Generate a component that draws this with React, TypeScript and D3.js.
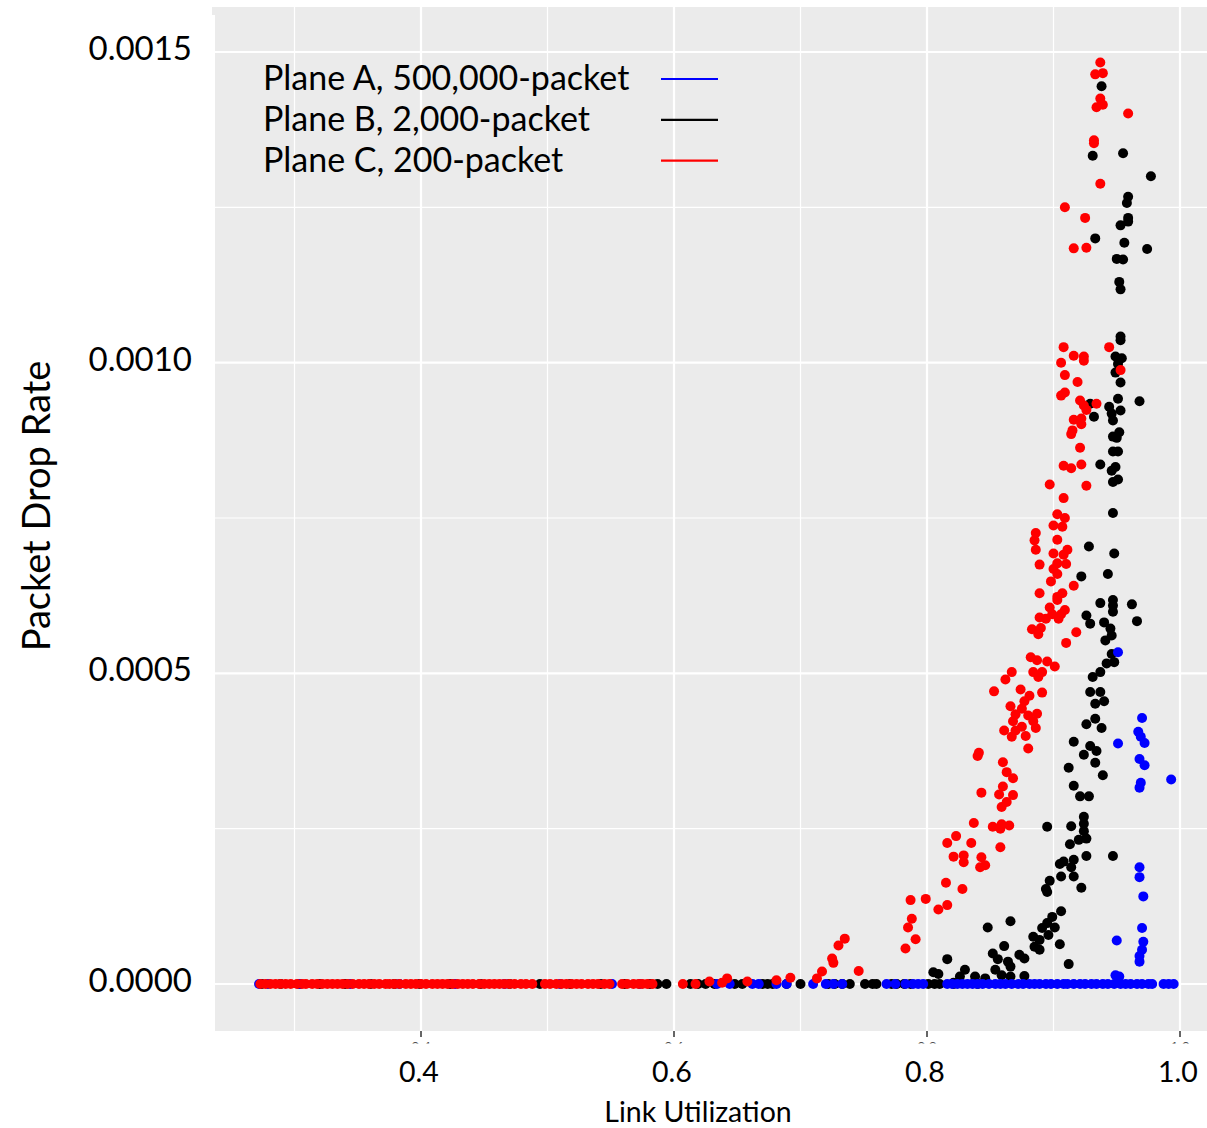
import React from "react";
import * as d3 from "d3";

// ---------- data (link utilization, packet drop rate in units of 1e-4) ----------
const DROP_UNIT = 1e-4;

const SERIES_NAMES = ["Plane A, 500,000-packet", "Plane B, 2,000-packet", "Plane C, 200-packet"];
const SERIES_COLORS = ["#0000ff", "#000000", "#ff0000"];

const X_TICKS = [0.4, 0.6, 0.8, 1.0];
const X_MINOR = [0.3, 0.5, 0.7, 0.9];
const Y_TICKS = [0, 0.0005, 0.001, 0.0015];
const Y_MINOR = [0.00025, 0.00075, 0.00125];

// Plane A (blue) zero-drop utilizations
const A_ZERO = [
  0.272, 0.279, 0.304, 0.344, 0.383, 0.427, 0.466, 0.51, 0.551, 0.573, 0.634, 0.644, 0.662, 0.667,
  0.681, 0.689, 0.71, 0.72, 0.726, 0.733, 0.768, 0.775, 0.783, 0.789, 0.793, 0.797, 0.816, 0.82,
  0.824, 0.828, 0.832, 0.836, 0.84, 0.844, 0.849, 0.854, 0.858, 0.862, 0.867, 0.872, 0.876, 0.881,
  0.885, 0.889, 0.894, 0.898, 0.903, 0.908, 0.911, 0.916, 0.921, 0.925, 0.93, 0.934, 0.939, 0.943,
  0.948, 0.953, 0.957, 0.961, 0.966, 0.97, 0.975, 0.978, 0.987, 0.991, 0.995,
];
// Plane A (blue) non-zero drops [utilization, drop x1e-4]
const A_DROP: [number, number][] = [
  [0.97, 4.28], [0.951, 3.87], [0.967, 4.06], [0.969, 3.98], [0.972, 3.88], [0.968, 3.62],
  [0.972, 3.52], [0.969, 3.24], [0.968, 3.16], [0.993, 3.29], [0.968, 1.88], [0.968, 1.72],
  [0.971, 1.41], [0.97, 0.9], [0.95, 0.7], [0.971, 0.68], [0.97, 0.55], [0.968, 0.45],
  [0.968, 0.36], [0.949, 0.14], [0.952, 0.12], [0.951, 5.34],
];

// Plane B (black) zero-drop utilizations
const B_ZERO = [
  0.274, 0.289, 0.304, 0.32, 0.34, 0.36, 0.379, 0.399, 0.423, 0.447, 0.47, 0.494, 0.518, 0.542,
  0.561, 0.581, 0.587, 0.594, 0.613, 0.619, 0.625, 0.632, 0.648, 0.654, 0.67, 0.674, 0.678, 0.689,
  0.7, 0.722, 0.727, 0.733, 0.739, 0.751, 0.757, 0.76, 0.772, 0.776, 0.782, 0.787, 0.801, 0.806,
  0.81, 0.821, 0.84,
];
// Plane B (black) non-zero drops
const B_DROP: [number, number][] = [
  [0.938, 14.45], [0.931, 13.33], [0.955, 13.37], [0.977, 13.0], [0.959, 12.67], [0.958, 12.57],
  [0.959, 12.33], [0.959, 12.27], [0.953, 12.21], [0.933, 12.0], [0.956, 11.93], [0.974, 11.83],
  [0.95, 11.67], [0.955, 11.66], [0.952, 11.3], [0.953, 11.18], [0.953, 10.42], [0.953, 10.36],
  [0.949, 10.1], [0.954, 10.07], [0.951, 9.98], [0.949, 9.84], [0.953, 9.68], [0.951, 9.42],
  [0.968, 9.38], [0.929, 9.34], [0.944, 9.29], [0.953, 9.23], [0.946, 9.18], [0.932, 9.13],
  [0.947, 9.07], [0.952, 8.88], [0.947, 8.81], [0.95, 8.79], [0.947, 8.57], [0.951, 8.57],
  [0.937, 8.36], [0.949, 8.32], [0.946, 8.26], [0.951, 8.12], [0.947, 8.08], [0.947, 7.58],
  [0.928, 7.04], [0.948, 6.93], [0.922, 6.56], [0.943, 6.6], [0.937, 6.13], [0.947, 6.18],
  [0.947, 6.09], [0.947, 5.99], [0.962, 6.11], [0.966, 5.84], [0.926, 5.93], [0.929, 5.8],
  [0.94, 5.82], [0.945, 5.72], [0.946, 5.61], [0.941, 5.53], [0.946, 5.31], [0.948, 5.18],
  [0.942, 5.16], [0.937, 5.02], [0.931, 4.94], [0.929, 4.7], [0.937, 4.7], [0.933, 4.51],
  [0.94, 4.55], [0.933, 4.27], [0.926, 4.18], [0.938, 4.12], [0.916, 3.9], [0.929, 3.83],
  [0.934, 3.75], [0.924, 3.69], [0.933, 3.56], [0.912, 3.48], [0.939, 3.36], [0.916, 3.19],
  [0.921, 3.02], [0.928, 3.02], [0.924, 2.69], [0.924, 2.58], [0.914, 2.54], [0.895, 2.53],
  [0.924, 2.46], [0.926, 2.34], [0.92, 2.32], [0.913, 2.25], [0.947, 2.06], [0.926, 2.06],
  [0.916, 2.0], [0.908, 1.97], [0.905, 1.93], [0.914, 1.88], [0.906, 1.73], [0.916, 1.73],
  [0.922, 1.55], [0.897, 1.66], [0.894, 1.53], [0.895, 1.48], [0.906, 1.17], [0.899, 1.08],
  [0.895, 0.98], [0.891, 0.9], [0.901, 0.91], [0.896, 0.79], [0.884, 0.76], [0.889, 0.71],
  [0.885, 0.6], [0.889, 0.55], [0.905, 0.64], [0.912, 0.32], [0.866, 1.01], [0.848, 0.91],
  [0.861, 0.61], [0.852, 0.49], [0.856, 0.4], [0.864, 0.36], [0.866, 0.28], [0.873, 0.47],
  [0.877, 0.41], [0.854, 0.23], [0.859, 0.14], [0.866, 0.12], [0.877, 0.13], [0.816, 0.4],
  [0.805, 0.19], [0.809, 0.16], [0.83, 0.23], [0.838, 0.12], [0.846, 0.09], [0.838, 0.04],
  [0.826, 0.12], [0.821, 0.02],
];

// Plane C (red) zero-drop utilizations
const C_ZERO = [
  0.273, 0.277, 0.281, 0.285, 0.289, 0.293, 0.297, 0.302, 0.306, 0.309, 0.314, 0.318, 0.322,
  0.326, 0.33, 0.334, 0.338, 0.342, 0.346, 0.351, 0.355, 0.359, 0.363, 0.367, 0.372, 0.375,
  0.379, 0.383, 0.388, 0.392, 0.396, 0.4, 0.404, 0.409, 0.413, 0.417, 0.421, 0.425, 0.429,
  0.433, 0.437, 0.441, 0.446, 0.45, 0.454, 0.458, 0.462, 0.466, 0.47, 0.474, 0.479, 0.483,
  0.488, 0.498, 0.502, 0.507, 0.511, 0.515, 0.519, 0.523, 0.527, 0.532, 0.536, 0.54, 0.545,
  0.549, 0.559, 0.563, 0.568, 0.572, 0.575, 0.579, 0.583, 0.607, 0.617,
];
// Plane C (red) non-zero drops
const C_DROP: [number, number][] = [
  [0.937, 14.83], [0.933, 14.64], [0.939, 14.66], [0.937, 14.25], [0.939, 14.15], [0.934, 14.11],
  [0.959, 14.01], [0.932, 13.58], [0.932, 13.53], [0.937, 12.88], [0.909, 12.5], [0.925, 12.33],
  [0.916, 11.84], [0.926, 11.85], [0.908, 10.25], [0.944, 10.25], [0.916, 10.11], [0.924, 10.1],
  [0.924, 10.03], [0.906, 10.0], [0.953, 9.88], [0.909, 9.8], [0.919, 9.69], [0.909, 9.52],
  [0.906, 9.47], [0.921, 9.39], [0.924, 9.31], [0.934, 9.34], [0.926, 9.24], [0.916, 9.08],
  [0.922, 9.1], [0.922, 9.01], [0.915, 8.91], [0.914, 8.85], [0.921, 8.63], [0.908, 8.34],
  [0.914, 8.3], [0.922, 8.36], [0.897, 8.04], [0.926, 8.02], [0.908, 7.82], [0.903, 7.56],
  [0.909, 7.5], [0.9, 7.38], [0.907, 7.36], [0.886, 7.26], [0.885, 7.14], [0.903, 7.15],
  [0.886, 6.99], [0.911, 6.99], [0.908, 6.91], [0.9, 6.93], [0.889, 6.75], [0.903, 6.77],
  [0.91, 6.76], [0.9, 6.68], [0.903, 6.6], [0.898, 6.48], [0.916, 6.41], [0.889, 6.29],
  [0.907, 6.29], [0.903, 6.23], [0.903, 6.18], [0.897, 6.06], [0.909, 6.02], [0.899, 5.95],
  [0.906, 5.95], [0.889, 5.9], [0.894, 5.88], [0.904, 5.88], [0.883, 5.71], [0.89, 5.73],
  [0.888, 5.63], [0.918, 5.66], [0.91, 5.49], [0.882, 5.26], [0.887, 5.21], [0.895, 5.19],
  [0.901, 5.11], [0.884, 5.02], [0.891, 5.02], [0.888, 4.94], [0.867, 5.02], [0.862, 4.9],
  [0.853, 4.71], [0.874, 4.74], [0.881, 4.64], [0.877, 4.55], [0.891, 4.69], [0.866, 4.47],
  [0.875, 4.43], [0.87, 4.34], [0.887, 4.35], [0.88, 4.32], [0.884, 4.23], [0.868, 4.23],
  [0.861, 4.08], [0.87, 4.08], [0.875, 4.14], [0.886, 4.12], [0.867, 3.98], [0.878, 3.99],
  [0.88, 3.79], [0.841, 3.72], [0.84, 3.67], [0.86, 3.57], [0.863, 3.41], [0.868, 3.31],
  [0.86, 3.18], [0.857, 3.05], [0.868, 3.04], [0.863, 2.93], [0.859, 2.85], [0.843, 3.08],
  [0.837, 2.59], [0.852, 2.53], [0.859, 2.57], [0.865, 2.55], [0.858, 2.5], [0.858, 2.2],
  [0.816, 2.27], [0.823, 2.38], [0.835, 2.27], [0.821, 2.05], [0.829, 2.07], [0.829, 1.96],
  [0.843, 2.04], [0.846, 1.91], [0.842, 1.88], [0.815, 1.63], [0.828, 1.53], [0.787, 1.35],
  [0.799, 1.37], [0.816, 1.27], [0.809, 1.2], [0.788, 1.05], [0.785, 0.91], [0.791, 0.72],
  [0.783, 0.57], [0.735, 0.73], [0.73, 0.62], [0.725, 0.41], [0.726, 0.34], [0.717, 0.2],
  [0.713, 0.09], [0.746, 0.21], [0.692, 0.1], [0.681, 0.06], [0.658, 0.04], [0.642, 0.09],
  [0.628, 0.04], [0.638, 0.02],
];

// ---------- chart ----------
const W = 1207;
const H = 1128;
const PANEL = { left: 215, right: 1207, top: 7, bottom: 1031 };
const FONT = "Lato, 'Open Sans', sans-serif";

const x = d3.scaleLinear().domain([0.8, 1.0]).range([927, 1180]);
const y = d3.scaleLinear().domain([0, 0.0015]).range([984, 52]);
const fmtY = d3.format(".4f");
const fmtX = d3.format(".1f");

type Pt = { u: number; v: number };
const toPts = (zero: number[], drop: [number, number][]): Pt[] => [
  ...zero.map((u) => ({ u, v: 0 })),
  ...drop.map(([u, d]) => ({ u, v: d * DROP_UNIT })),
];

const SERIES = [toPts(A_ZERO, A_DROP), toPts(B_ZERO, B_DROP), toPts(C_ZERO, C_DROP)];
// draw order: black, blue, red
const DRAW_ORDER = [1, 0, 2];

export default function App() {
  const r = 5;
  return (
    <svg
      width={W}
      height={H}
      style={{ position: "absolute", left: 0, top: 0, background: "#fff" }}
      fontFamily={FONT}
    >
      <defs>
        <clipPath id="panelClip">
          <rect x={PANEL.left} y={PANEL.top} width={PANEL.right - PANEL.left} height={PANEL.bottom - PANEL.top} />
        </clipPath>
        <clipPath id="tinyClip">
          <rect x={0} y={1038} width={W} height={5.5} />
        </clipPath>
      </defs>
      <rect x={0} y={0} width={W} height={H} fill="#fff" />
      {/* panel */}
      <rect x={212} y={PANEL.top} width={3} height={8} fill="#ebebeb" />
      <rect
        x={PANEL.left}
        y={PANEL.top}
        width={PANEL.right - PANEL.left}
        height={PANEL.bottom - PANEL.top}
        fill="#ebebeb"
      />
      <g clipPath="url(#panelClip)">
        {Y_MINOR.map((t) => (
          <line key={"ym" + t} x1={PANEL.left} x2={PANEL.right} y1={y(t)} y2={y(t)} stroke="#fff" strokeWidth={1.2} />
        ))}
        {X_MINOR.map((t) => (
          <line key={"xm" + t} x1={x(t)} x2={x(t)} y1={PANEL.top} y2={PANEL.bottom} stroke="#fff" strokeWidth={1.2} />
        ))}
        {Y_TICKS.map((t) => (
          <line key={"yM" + t} x1={PANEL.left} x2={PANEL.right} y1={y(t)} y2={y(t)} stroke="#fff" strokeWidth={2.2} />
        ))}
        {X_TICKS.map((t) => (
          <line key={"xM" + t} x1={x(t)} x2={x(t)} y1={PANEL.top} y2={PANEL.bottom} stroke="#fff" strokeWidth={2.2} />
        ))}
        {DRAW_ORDER.map((si) => (
          <g key={"s" + si} fill={SERIES_COLORS[si]}>
            {SERIES[si].map((p, i) => (
              <circle key={i} cx={x(p.u)} cy={y(p.v)} r={r} />
            ))}
          </g>
        ))}
      </g>

      {/* legend */}
      {SERIES_NAMES.map((name, i) => (
        <g key={"lg" + i}>
          <text x={263} y={90 + i * 40.8} fontSize={34} fill="#000">
            {name}
          </text>
          <line x1={661} x2={718} y1={79 + i * 40.8} y2={79 + i * 40.8} stroke={SERIES_COLORS[i]} strokeWidth={2.2} />
        </g>
      ))}

      {/* x axis ticks */}
      {X_TICKS.map((t) => (
        <line key={"xt" + t} x1={x(t)} x2={x(t)} y1={PANEL.bottom} y2={PANEL.bottom + 6} stroke="#333" strokeWidth={1.5} />
      ))}
      <g clipPath="url(#tinyClip)">
        {X_TICKS.map((t) => (
          <text key={"xs" + t} x={x(t)} y={1052} fontSize={14} textAnchor="middle" fill="#4d4d4d">
            {fmtX(t)}
          </text>
        ))}
      </g>
      {X_TICKS.map((t) => (
        <text key={"xl" + t} x={x(t) - 2} y={1082} fontSize={28.5} textAnchor="middle" fill="#000">
          {fmtX(t)}
        </text>
      ))}
      <text x={698} y={1121.5} fontSize={28.5} textAnchor="middle" fill="#000">
        Link Utilization
      </text>

      {/* y axis labels */}
      {Y_TICKS.map((t) => (
        <text key={"yl" + t} x={192} y={y(t) + 8} fontSize={33} textAnchor="end" fill="#000">
          {fmtY(t)}
        </text>
      ))}
      <text
        transform="translate(50,506) rotate(-90)"
        fontSize={38}
        textAnchor="middle"
        fill="#000"
      >
        Packet Drop Rate
      </text>
    </svg>
  );
}
